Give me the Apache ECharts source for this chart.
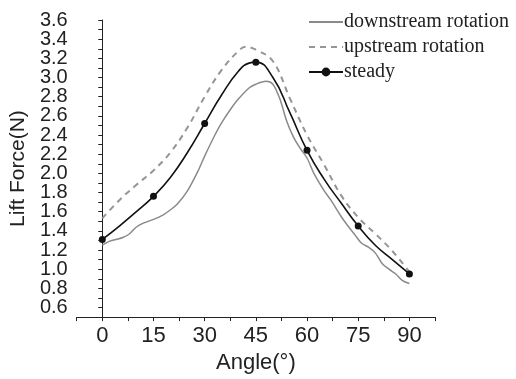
<!DOCTYPE html>
<html>
<head>
<meta charset="utf-8">
<script src="https://cdn.jsdelivr.net/npm/echarts@6/dist/echarts.min.js"></script>
<style>html,body{margin:0;padding:0;background:#fff}#c{width:516px;height:379px}</style>
</head>
<body>
<div id="c"></div>
<script>
const seriesNames = ['downstream rotation', 'upstream rotation', 'steady'];
const xTickLabels = [0, 15, 30, 45, 60, 75, 90];
const yTickLabels = ['0.6','0.8','1.0','1.2','1.4','1.6','1.8','2.0','2.2','2.4','2.6','2.8','3.0','3.2','3.4','3.6'];

const downAngles = [0, 2, 4, 6, 8, 10, 12, 15, 18, 20, 22, 25, 28, 30, 33, 35, 38, 40, 43, 45, 48, 50, 52, 54, 56, 58, 60, 62, 65, 67, 70, 72, 74, 76, 78, 80, 82, 84, 86, 88, 90];
const downValues = [1.25, 1.29, 1.31, 1.33, 1.37, 1.44, 1.48, 1.52, 1.57, 1.62, 1.68, 1.82, 2.02, 2.18, 2.40, 2.53, 2.69, 2.78, 2.89, 2.93, 2.96, 2.93, 2.78, 2.55, 2.38, 2.26, 2.16, 2.00, 1.82, 1.72, 1.55, 1.45, 1.36, 1.27, 1.23, 1.17, 1.06, 1.00, 0.95, 0.88, 0.85];

const upAngles = [0, 5, 10, 15, 20, 25, 30, 35, 40, 42, 45, 50, 55, 60, 65, 70, 75, 80, 85, 90];
const upValues = [1.53, 1.72, 1.88, 2.03, 2.22, 2.48, 2.80, 3.08, 3.28, 3.32, 3.29, 3.17, 2.78, 2.40, 2.09, 1.77, 1.54, 1.37, 1.19, 0.97];

const steadyAngles = [0, 5, 10, 15, 20, 25, 30, 35, 40, 43, 45, 50, 55, 60, 65, 70, 75, 80, 85, 90];
const steadyValues = [1.31, 1.45, 1.60, 1.76, 1.96, 2.22, 2.52, 2.82, 3.07, 3.15, 3.16, 3.00, 2.63, 2.24, 1.94, 1.69, 1.45, 1.25, 1.10, 0.95];

const pairs = (a, v) => a.map((x, i) => [x, v[i]]);

const chart = echarts.init(document.getElementById('c'), null, {renderer: 'canvas'});
const sans = 'Liberation Sans, Arial, sans-serif';
chart.setOption({
  animation: false,
  backgroundColor: '#fff',
  grid: {left: 75, right: 81, top: 20, bottom: 54},
  legend: {
    orient: 'vertical',
    left: 303, top: 7,
    itemWidth: 34, itemHeight: 11, itemGap: 5,
    data: [
      {name: seriesNames[0], itemStyle: {opacity: 0}},
      {name: seriesNames[1], itemStyle: {opacity: 0}},
      {name: seriesNames[2]}
    ],
    textStyle: {fontFamily: 'Liberation Serif, Times New Roman, serif', fontSize: 20, color: '#222', padding: [0,0,0,-4]}
  },
  xAxis: {
    type: 'value', min: -7.5, max: 97.5, interval: 7.5,
    name: 'Angle(°)', nameLocation: 'middle', nameGap: 33,
    nameTextStyle: {fontFamily: sans, fontSize: 22, color: '#222'},
    axisLine: {lineStyle: {color: '#222', width: 1}},
    axisTick: {length: 4, lineStyle: {color: '#222'}},
    axisLabel: {
      fontFamily: sans, fontSize: 22, color: '#222', margin: 8,
      formatter: v => (xTickLabels.indexOf(Math.round(v * 10) / 10) >= 0 ? String(v) : '')
    },
    splitLine: {show: false}
  },
  yAxis: {
    type: 'value', min: 0.5, max: 3.6, interval: 0.1,
    name: 'Lift Force(N)', nameLocation: 'middle', nameGap: 39, nameRotate: 90,
    nameTextStyle: {fontFamily: sans, fontSize: 21, color: '#222'},
    axisLine: {show: true, lineStyle: {color: '#222', width: 1}},
    axisTick: {show: true, length: 4, lineStyle: {color: '#222'}},
    axisLabel: {
      fontFamily: sans, fontSize: 20, color: '#222', margin: 9, showMinLabel: true, showMaxLabel: true,
      formatter: v => { const s = (Math.round(v * 10) / 10).toFixed(1); return yTickLabels.indexOf(s) >= 0 ? s : ''; }
    },
    splitLine: {show: false}
  },
  series: [
    {
      name: seriesNames[0], type: 'line', data: pairs(downAngles, downValues),
      smooth: 0.3, symbol: 'none',
      lineStyle: {color: '#8a8a8a', width: 1.5},
      itemStyle: {color: '#8a8a8a'}
    },
    {
      name: seriesNames[1], type: 'line', data: pairs(upAngles, upValues),
      smooth: 0.4, symbol: 'none',
      lineStyle: {color: '#959595', width: 2, type: [6, 5]},
      itemStyle: {color: '#959595'}
    },
    {
      name: seriesNames[2], type: 'line', data: pairs(steadyAngles, steadyValues),
      smooth: 0.5, symbol: 'circle', showSymbol: true, showAllSymbol: true,
      symbolSize: (val) => (val[0] % 15 === 0 ? 7 : 0),
      lineStyle: {color: '#111', width: 1.6},
      itemStyle: {color: '#111'}
    }
  ]
});
</script>
</body>
</html>
